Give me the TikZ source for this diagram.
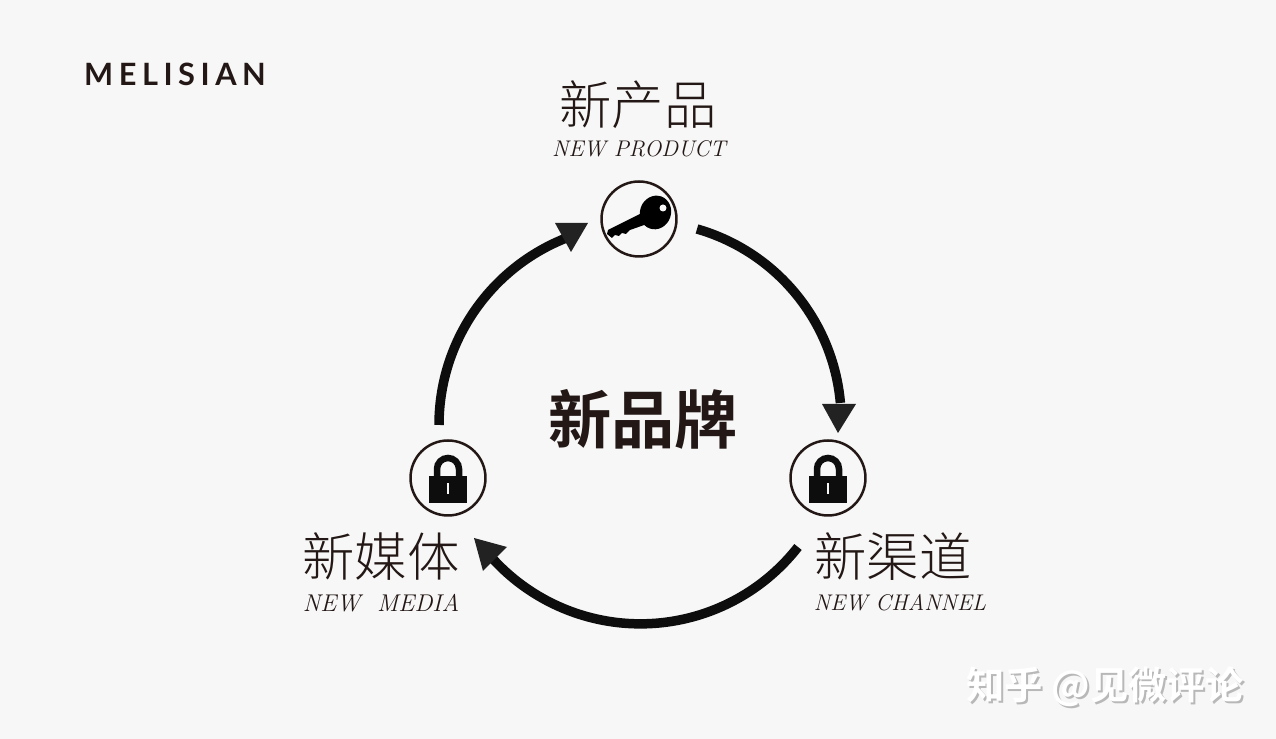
\documentclass[tikz,border=0pt]{standalone}
\usepackage{fontspec}
\usepackage{xcolor}
\newfontfamily\cjklight{Noto Sans CJK SC Light}
\newfontfamily\cjkbold{Noto Sans CJK SC Bold}
\newfontfamily\cjkplain{Noto Sans CJK SC}
\newfontfamily\logofont[LetterSpace=18]{Lato Bold}
\definecolor{fondo}{HTML}{F7F7F7}
\definecolor{tinta}{HTML}{231815}
\definecolor{punta}{HTML}{222222}
\begin{document}
\begin{tikzpicture}[x=0.02cm,y=0.02cm,
  titulo/.style={inner sep=0pt,text=tinta,font=\cjklight\fontsize{29.8}{32}\selectfont},
  subtitulo/.style={inner sep=0pt,text=tinta,font=\rmfamily\itshape\fontsize{12.9}{16}\selectfont},
  disco/.style={circle,draw=tinta,line width=0.05cm,minimum size=1.5cm,inner sep=0pt},
  anillo/.style={line width=0.19cm,color=black!95},
  punta/.style={fill=punta},
  agua/.style={inner sep=0pt,font=\cjkbold\fontsize{21.8}{26}\selectfont}]
  \fill[fondo] (0,0) rectangle (1276,739);
  \useasboundingbox (0,0) rectangle (1276,739);
  \node[inner sep=0pt,text=tinta,font=\logofont\fontsize{17.5}{20}\selectfont] (logo) at (175,665) {MELISIAN};
  \node[inner sep=0pt,text=tinta,font=\cjkbold\fontsize{36}{38}\selectfont] (marca) at (643,320) {新品牌};
  % top
  \node[titulo] (producto) at (638,634) {新产品};
  \node[subtitulo] (productoen) at (639,590) {NEW PRODUCT};
  \node[disco] (llave) at (639,520) {};
  \fill[black,rotate around={-20:(655.5,526.5)}] (655.5,526.5) ellipse (15.5 and 17);
  \fill[black] (607,505) -- (608,509) -- (640,525) -- (650,520) -- (647,515) -- (630,509) -- (626,505) -- (622,506) -- (619,503) -- (615,504) -- (612,501) -- cycle;
  \fill[fondo] (663,531) circle (3.5);
  % locks
  \foreach \nombre/\px in {candadol/448,candador/828}{
    \node[disco] (\nombre) at (\px,261) {};
    \fill[black!95] (\px-19,236) rectangle (\px+19,263);
    \draw[black!95,line width=0.13cm] (\px-11,263) -- (\px-11,270) arc (180:0:11) -- (\px+11,263);
    \fill[fondo] (\px-1,245) rectangle (\px+1,256);
  }
  \node[titulo] (medios) at (381,182) {新媒体};
  \node[subtitulo,font=\rmfamily\itshape\fontsize{13.8}{16}\selectfont] (mediosen) at (381,136) {NEW\ \ MEDIA};
  \node[titulo] (canal) at (893,182) {新渠道};
  \node[subtitulo] (canalen) at (900,136) {NEW CHANNEL};
  % ring
  \coordinate (llavesal) at (697,510);
  \coordinate (canalsal) at (798,192);
  \coordinate (mediossal) at (439,314);
  \draw[anillo] (llavesal) arc (74:5:199);
  \draw[anillo] (canalsal) arc (-38:-138:200);
  \draw[anillo] (mediossal) arc (180:111:201);
  \fill[punta] (822,335) -- (856,335) -- (838,306) -- cycle;
  \fill[punta] (474,201) -- (507,192) -- (483,168) -- cycle;
  \fill[punta] (555,516) -- (588,516) -- (571,487) -- cycle;
  % watermark
  \node[agua,text=black!28] (marcaaguasombra) at (1107,50) {知乎 @见微评论};
  \node[agua,text=white] (marcaagua) at (1105,52) {知乎 @见微评论};
\end{tikzpicture}
\end{document}
